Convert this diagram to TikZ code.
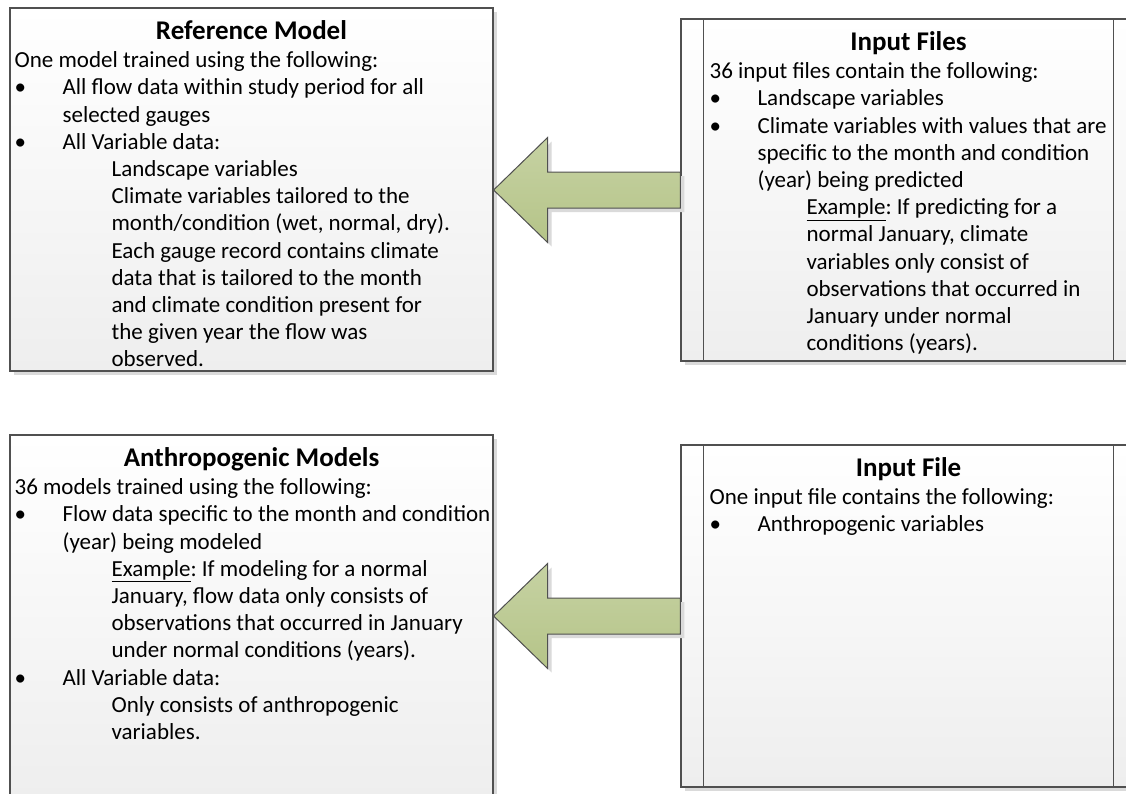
\documentclass[tikz,border=0pt]{standalone}
\usepackage{fontspec}
\setmainfont{Carlito}
\usetikzlibrary{calc,shadows}
\definecolor{edge}{RGB}{80,80,80}
\definecolor{boxbot}{RGB}{238,238,238}
\definecolor{shad}{RGB}{218,218,218}
\definecolor{arrtop}{RGB}{198,210,163}
\definecolor{arrbot}{RGB}{181,196,136}
\newcommand{\bul}{\makebox[48pt][l]{\textbullet}}
\newcommand{\ind}{\hspace*{48pt}}
\newcommand{\iind}{\hspace*{97pt}}
\newcommand{\firstline}{\rule{0pt}{20pt}}
\frenchspacing
\begin{document}
\begin{tikzpicture}[x=1pt,y=-1pt,
  panel/.style={rectangle, draw=edge, line width=1.2pt, top color=white, bottom color=boxbot, inner sep=0pt,
    drop shadow={shadow xshift=4pt, shadow yshift=-4pt, fill=shad, opacity=1}},
  divider/.style={draw=edge, line width=1.2pt},
  boxtitle/.style={font=\fontsize{27}{31}\selectfont\bfseries, inner sep=0pt, anchor=base},
  boxbody/.style={font=\fontsize{23}{27.2}\selectfont\frenchspacing, align=left, inner sep=0pt, anchor=north west},
  bigarrow/.style={draw=edge, line width=1pt, top color=arrtop, bottom color=arrbot,
    drop shadow={shadow xshift=4pt, shadow yshift=-4pt, fill=shad, opacity=1}}]
\useasboundingbox[fill=white] (0,0) rectangle (1126,793);

% boxes
\node[panel, minimum width=483pt, minimum height=363pt] (ref) at (251.5,189.5) {};
\node[panel, minimum width=455pt, minimum height=342pt] (inf) at (908.5,190) {};
\node[panel, minimum width=483pt, minimum height=363pt] (anth) at (251.5,616.5) {};
\node[panel, minimum width=455pt, minimum height=342pt] (inp) at (908.5,616) {};

% inner dividers of the input boxes
\draw[divider] ($(inf.north west)+(23,0)$) -- ($(inf.south west)+(23,0)$);
\draw[divider] ($(inf.north east)+(-23,0)$) -- ($(inf.south east)+(-23,0)$);
\draw[divider] ($(inp.north west)+(23,0)$) -- ($(inp.south west)+(23,0)$);
\draw[divider] ($(inp.north east)+(-23,0)$) -- ($(inp.south east)+(-23,0)$);

% titles
\node[boxtitle] (reft) at ($(ref.north)+(0,32)$) {Reference Model};
\node[boxtitle] (inft) at ($(inf.north)+(0,32)$) {Input Files};
\node[boxtitle] (antht) at ($(anth.north)+(0,32)$) {Anthropogenic Models};
\node[boxtitle] (inpt) at ($(inp.north)+(0,32)$) {Input File};

% bodies
\node[boxbody] (refb) at ($(ref.north west)+(5,40)$) {\firstline One model trained using the following:\\
\bul All flow data within study period for all\\
\ind selected gauges\\
\bul All Variable data:\\
\iind Landscape variables\\
\iind Climate variables tailored to the\\
\iind month/condition (wet, normal, dry).\\
\iind Each gauge record contains climate\\
\iind data that is tailored to the month\\
\iind and climate condition present for\\
\iind the given year the flow was\\
\iind observed.};

\node[boxbody] (infb) at ($(inf.north west)+(29,40)$) {\firstline 36 input files contain the following:\\
\bul Landscape variables\\
\bul Climate variables with values that are\\
\ind specific to the month and condition\\
\ind (year) being predicted\\
\iind \underline{Example}: If predicting for a\\
\iind normal January, climate\\
\iind variables only consist of\\
\iind observations that occurred in\\
\iind January under normal\\
\iind conditions (years).};

\node[boxbody] (anthb) at ($(anth.north west)+(5,40)$) {\firstline 36 models trained using the following:\\
\bul Flow data specific to the month and condition\\
\ind (year) being modeled\\
\iind \underline{Example}: If modeling for a normal\\
\iind January, flow data only consists of\\
\iind observations that occurred in January\\
\iind under normal conditions (years).\\
\bul All Variable data:\\
\iind Only consists of anthropogenic\\
\iind variables.};

\node[boxbody] (inpb) at ($(inp.north west)+(29,40)$) {\firstline One input file contains the following:\\
\bul Anthropogenic variables};

% block arrows (input -> model)
\coordinate (t1) at (ref.east |- inf.west);
\draw[bigarrow] (t1) -- ++(54,-52.5) -- ++(0,34.5) -- ($(inf.west)+(0,-18)$) -- ($(inf.west)+(0,18)$)
  -- ($(t1)+(54,18)$) -- ($(t1)+(54,52.5)$) -- cycle;
\coordinate (t2) at (anth.east |- inp.west);
\draw[bigarrow] (t2) -- ++(54,-52.5) -- ++(0,34.5) -- ($(inp.west)+(0,-18)$) -- ($(inp.west)+(0,18)$)
  -- ($(t2)+(54,18)$) -- ($(t2)+(54,52.5)$) -- cycle;
\end{tikzpicture}
\end{document}
